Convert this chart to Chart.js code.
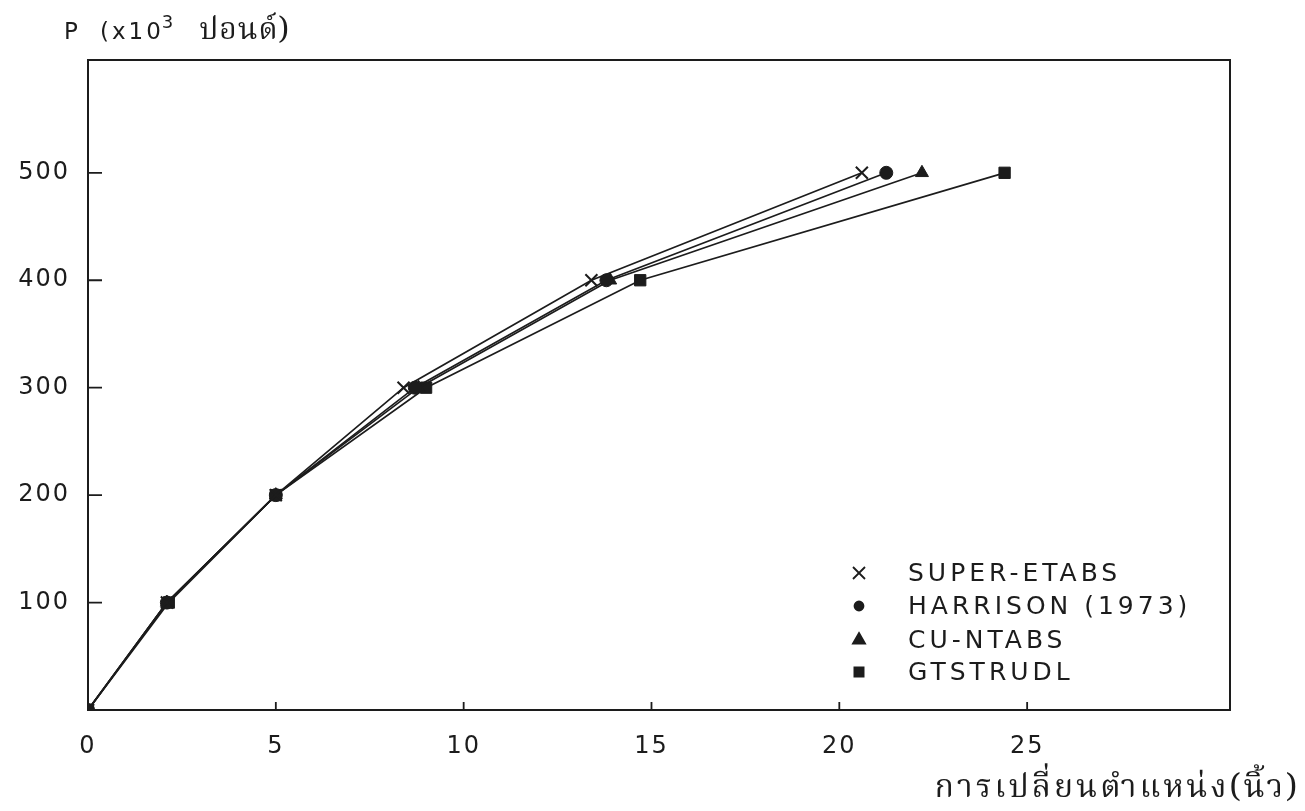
<!DOCTYPE html>
<html>
<head>
<meta charset="utf-8">
<script src="https://cdn.jsdelivr.net/npm/chart.js@4.4.1/dist/chart.umd.min.js"></script>
<style>
  html, body { margin: 0; padding: 0; background: #ffffff; }
  #wrap { width: 1305px; height: 811px; position: relative; }
  canvas { display: block; }
</style>
</head>
<body>
<div id="wrap"><canvas id="c" width="1305" height="811"></canvas></div>
<script>
// ---- data ----
const loads      = [0, 100, 200, 300, 400, 500];          // P (x10^3 lb)
const superEtabs = [0, 2.1, 5.0, 8.4, 13.4, 20.6];        // displacement (in)
const harrison   = [0, 2.1, 5.0, 8.7, 13.8, 21.25];
const cuNtabs    = [0, 2.1, 5.0, 8.8, 13.9, 22.2];
const gtstrudl   = [0, 2.15, 5.0, 9.0, 14.7, 24.4];
const seriesNames = ['SUPER-ETABS', 'HARRISON (1973)', 'CU-NTABS', 'GTSTRUDL'];
const xTickValues = [0, 5, 10, 15, 20, 25];
const yTickValues = [100, 200, 300, 400, 500];
const yTitleP = 'P';
const yTitleMain = '(x10';
const yTitleSup = '3';
const yTitleUnit = 'ปอนด์)';
const xTitle = 'การเปลี่ยนตำแหน่ง(นิ้ว)';

const INK = '#1c1c1c';
const tickFont = '"DejaVu Sans", sans-serif';
const thaiFont = '"Noto Serif Thai", "Noto Sans Thai Looped", "Norasi", "Kinnari", "Garuda", "Loma", "Noto Sans Thai", sans-serif';

function pts(xs) { return xs.map((x, i) => ({ x: x, y: loads[i] })); }

const styles = [
  { pointStyle: 'crossRot', r: 8.5, lr: 8.5, bw: 2 },
  { pointStyle: 'circle',   r: 6.5, lr: 4.5, bw: 1 },
  { pointStyle: 'triangle', r: 7.5, lr: 7,   bw: 1 },
  { pointStyle: 'rect',     r: 8, lr: 6.5, bw: 1 }
];
const seriesX = [superEtabs, harrison, cuNtabs, gtstrudl];

const datasets = seriesX.map((xs, i) => ({
  label: seriesNames[i],
  data: pts(xs),
  borderColor: INK,
  backgroundColor: INK,
  borderWidth: 1.7,
  pointStyle: styles[i].pointStyle,
  pointRadius: styles[i].r,
  pointBorderWidth: styles[i].bw,
  pointBackgroundColor: INK,
  pointBorderColor: INK,
  tension: 0,
  fill: false
}));

const decor = {
  id: 'decor',
  beforeDraw(chart) {
    const ctx = chart.ctx;
    ctx.save();
    ctx.fillStyle = '#ffffff';
    ctx.fillRect(0, 0, chart.width, chart.height);
    ctx.restore();
    ctx.letterSpacing = '2px';
  },
  afterDraw(chart) {
    const ctx = chart.ctx;
    const a = chart.chartArea;
    const xs = chart.scales.x, ys = chart.scales.y;
    ctx.save();
    ctx.strokeStyle = INK;
    ctx.lineWidth = 2;
    ctx.strokeRect(a.left, a.top, a.right - a.left, a.bottom - a.top);
    ctx.lineWidth = 1.8;
    ctx.beginPath();
    yTickValues.forEach(v => {
      const py = ys.getPixelForValue(v);
      ctx.moveTo(a.left, py); ctx.lineTo(a.left + 14, py);
    });
    xTickValues.forEach(v => {
      if (v === 0) return;
      const px = xs.getPixelForValue(v);
      ctx.moveTo(px, a.bottom); ctx.lineTo(px, a.bottom - 8);
    });
    ctx.stroke();

    // y title
    ctx.fillStyle = INK;
    ctx.textBaseline = 'alphabetic';
    ctx.textAlign = 'left';
    ctx.letterSpacing = '3px';
    ctx.font = '23px ' + tickFont;
    const by = 39;
    ctx.fillText(yTitleP, 64, by);
    let x0 = 100;
    ctx.fillText(yTitleMain, x0, by);
    x0 += ctx.measureText(yTitleMain).width;
    ctx.font = '18px ' + tickFont;
    ctx.fillText(yTitleSup, x0 - 2, by - 11);
    ctx.letterSpacing = '1px';
    ctx.font = '30px ' + thaiFont;
    const uw = ctx.measureText(yTitleUnit).width;
    ctx.fillText(yTitleUnit, Math.max(x0 + 12, 290 - uw), by);

    // x title
    ctx.textAlign = 'right';
    ctx.letterSpacing = '3px';
    ctx.font = '32px ' + thaiFont;
    ctx.fillText(xTitle, 1300, 797);

    // legend
    const rows = [573, 606, 640, 672];
    ctx.textAlign = 'left';
    ctx.textBaseline = 'middle';
    ctx.letterSpacing = '4px';
    ctx.font = '25px ' + tickFont;
    chart.data.datasets.forEach((ds, i) => {
      const y = rows[i];
      Chart.helpers.drawPoint(ctx, {
        pointStyle: styles[i].pointStyle,
        radius: styles[i].lr,
        rotation: 0,
        borderWidth: styles[i].pointStyle === 'crossRot' ? 1.8 : 1
      }, 859, y);
      ctx.fillStyle = INK;
      ctx.strokeStyle = INK;
      ctx.fillText(ds.label, 908, y + 1);
    });
    ctx.restore();
  }
};

const ctx0 = document.getElementById('c');
new Chart(ctx0, {
  type: 'line',
  data: { datasets: datasets },
  options: {
    responsive: false,
    animation: false,
    events: [],
    layout: { padding: { left: 0, top: 60, right: 75, bottom: 0 } },
    plugins: { legend: { display: false }, tooltip: { enabled: false }, title: { display: false } },
    scales: {
      x: {
        type: 'linear',
        min: 0, max: 30.4,
        grid: { display: false, drawTicks: false },
        border: { display: false },
        afterBuildTicks(s) { s.ticks = xTickValues.map(v => ({ value: v })); },
        afterFit(s) { s.height = 101; },
        ticks: { color: INK, padding: 22, autoSkip: false, maxRotation: 0,
                 font: { family: 'DejaVu Sans', size: 24 } }
      },
      y: {
        type: 'linear',
        min: 0, max: 605,
        grid: { display: false, drawTicks: false },
        border: { display: false },
        afterBuildTicks(s) { s.ticks = yTickValues.map(v => ({ value: v })); },
        afterFit(s) { s.width = 88; },
        ticks: { color: INK, padding: 18, font: { family: 'DejaVu Sans', size: 24 } }
      }
    }
  },
  plugins: [decor]
});
</script>
</body>
</html>
